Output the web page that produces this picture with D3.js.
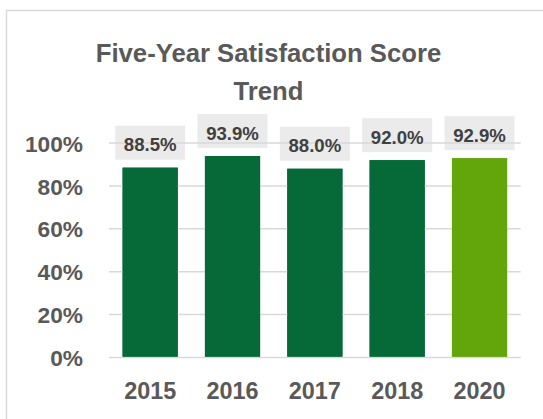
<!DOCTYPE html>
<html><head><meta charset="utf-8">
<script src="https://cdn.jsdelivr.net/npm/d3@7"></script>
<style>html,body{margin:0;padding:0;background:#fff;}svg{display:block;}</style>
</head><body>
<script>
const years = ["2015","2016","2017","2018","2020"];
const scores = [88.5, 93.9, 88.0, 92.0, 92.9];
const barColors = ["#066a38","#066a38","#066a38","#066a38","#63a60b"];
const yTicks = [0,20,40,60,80,100];
const titleLines = ["Five-Year Satisfaction Score","Trend"];

const W = 543, H = 419;
const svg = d3.select("body").append("svg").attr("width", W).attr("height", H);
const font = "'Liberation Sans', Arial, sans-serif";
const grey = "#595959";

// chart frame
svg.append("rect").attr("x",6.5).attr("y",10.5).attr("width",560).attr("height",430)
  .attr("fill","#fff").attr("stroke","#d9d9d9").attr("stroke-width",1.5);

const x = d3.scaleBand().domain(years).range([109, 520.7]).paddingInner(0.33).paddingOuter(0.165);
const y = d3.scaleLinear().domain([0,100]).range([357.5, 143]);

// title
svg.append("g").selectAll("text").data(titleLines).join("text")
  .attr("x", 268.5).attr("y",(d,i)=>62 + i*38)
  .attr("text-anchor","middle").attr("font-family",font).attr("font-weight","bold")
  .attr("font-size",25.7).attr("fill",grey).text(d=>d);

// bars
svg.append("g").selectAll("rect").data(scores).join("rect")
  .attr("x",(d,i)=>x(years[i])).attr("width",x.bandwidth())
  .attr("y",d=>y(d)).attr("height",d=>y(0)-y(d))
  .attr("fill",(d,i)=>barColors[i]);

// label boxes
const boxW = 70, boxH = 34, gap = 8;
svg.append("g").selectAll("rect").data(scores).join("rect")
  .attr("x",(d,i)=>x(years[i])+x.bandwidth()/2-boxW/2).attr("width",boxW)
  .attr("y",d=>y(d)-gap-boxH).attr("height",boxH)
  .attr("fill","#ebebeb");

// gridlines (drawn over boxes)
const grid = svg.append("g");
grid.selectAll("line").data(yTicks).join("line")
  .attr("x1",109).attr("x2",520.7)
  .attr("y1",d=>y(d)).attr("y2",d=>y(d))
  .attr("stroke","#d9d9d9").attr("stroke-width",1.5);

// re-draw bars over gridlines
svg.append("g").selectAll("rect").data(scores).join("rect")
  .attr("x",(d,i)=>x(years[i])).attr("width",x.bandwidth())
  .attr("y",d=>y(d)).attr("height",d=>y(0)-y(d)-1)
  .attr("fill",(d,i)=>barColors[i]);

// label text
svg.append("g").selectAll("text").data(scores).join("text")
  .attr("x",(d,i)=>x(years[i])+x.bandwidth()/2)
  .attr("y",d=>y(d)-gap-8.5)
  .attr("text-anchor","middle").attr("font-family",font).attr("font-weight","bold")
  .attr("font-size",18.6).attr("fill","#404040").text(d=>d.toFixed(1)+"%");

// y axis
const yAxis = d3.axisLeft(y).tickValues(yTicks).tickFormat(d=>d+"%").tickSize(0).tickPadding(0);
const gy = svg.append("g").attr("transform","translate(83,0)").call(yAxis);
gy.select(".domain").remove();
gy.selectAll("text").attr("font-family",font).attr("font-weight","bold")
  .attr("font-size",22.7).attr("fill",grey).attr("dy","0.36em");

// x axis
const xAxis = d3.axisBottom(x).tickSize(0).tickPadding(0);
const gx = svg.append("g").attr("transform","translate(0,391)").call(xAxis);
gx.select(".domain").remove();
gx.selectAll("text").attr("font-family",font).attr("font-weight","bold")
  .attr("font-size",23.4).attr("fill",grey).attr("dy","0.36em");
</script>
</body></html>
